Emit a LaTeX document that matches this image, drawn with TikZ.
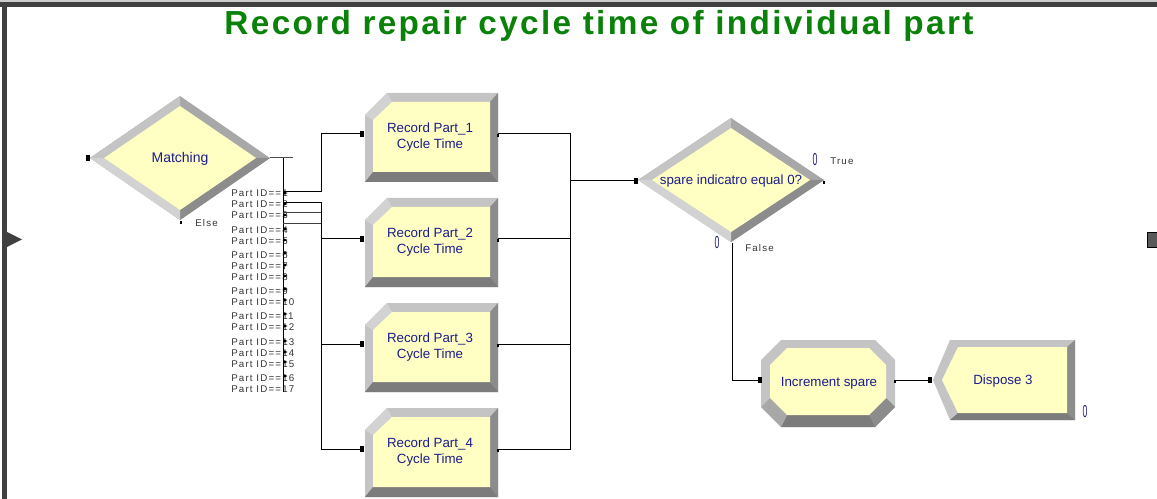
\documentclass[tikz,border=0pt]{standalone}
\usepackage{fontspec}
\setmainfont{Liberation Sans}
\newfontfamily\titlefont[LetterSpace=7]{Liberation Sans}
\newfontfamily\lblfont[LetterSpace=12]{Liberation Sans}
\usetikzlibrary{calc}
\definecolor{arenayellow}{HTML}{FFFFC4}
\definecolor{bevlight}{HTML}{C4C4C4}
\definecolor{bevlightest}{HTML}{D2D2D2}
\definecolor{bevmid}{HTML}{A8A8A8}
\definecolor{bevdark}{HTML}{8C8C8C}
\definecolor{bevdarker}{HTML}{7C7C7C}
\definecolor{arenablue}{HTML}{1C1C8C}
\definecolor{titlegreen}{HTML}{0A820A}
\definecolor{framegray}{HTML}{404040}
\tikzset{
  lbl/.style={font=\fontsize{10}{11.5}\selectfont, text=arenablue, align=center, inner sep=0pt},
  partlbl/.style={font=\lblfont\fontsize{7.3}{8}\selectfont, text=black!80, anchor=west, inner sep=0pt},
  smalllbl/.style={font=\lblfont\fontsize{7.3}{8}\selectfont, text=black!80, anchor=west, inner sep=0pt},
  counter/.style={font=\fontsize{13}{13}\selectfont, text=arenablue, inner sep=0pt},
  conn/.style={draw=black, line width=0.75pt},
}
\newcommand\portsq[1]{\fill[black] ($(#1)+(-2,-3)$) rectangle ($(#1)+(2,3)$);}
\newcommand\exittick[1]{\draw[black, line width=1pt] (#1) -- ++(0,3);}
\newcommand\recbox[3]{%
  \fill[bevlight] (365,#1+22) -- (387,#1) -- (498,#1) -- (498,#1+89) -- (365,#1+89) -- cycle;
  \fill[bevlightest] (365,#1+22) -- (387,#1) -- (392,#1+9) -- (373,#1+27) -- cycle;
  \fill[bevdark] (498,#1) -- (498,#1+89) -- (490,#1+79) -- (490,#1+9) -- cycle;
  \fill[bevdarker] (365,#1+89) -- (498,#1+89) -- (490,#1+79) -- (373,#1+79) -- cycle;
  \fill[arenayellow] (373,#1+27) -- (392,#1+9) -- (490,#1+9) -- (490,#1+79) -- (373,#1+79) -- cycle;
  \node[lbl] (#2) at (430,#1+44) {Record Part\_#3\\Cycle Time};
  \coordinate (#2in) at (362,#1+41);
  \coordinate (#2out) at (498,#1+41);
}
\newcommand\decidebox[4]{% cx, cy, hw, hh
  \fill[bevmid] (#1-#3,#2) -- (#1,#2-#4) -- (#1+#3,#2) -- (#1,#2+#4) -- cycle;
  \fill[bevlight] (#1-#3,#2) -- (#1,#2-#4) -- (#1,#2-#4+10) -- (#1-#3+14,#2) -- cycle;
  \fill[bevdark] (#1+#3,#2) -- (#1,#2+#4) -- (#1,#2+#4-10) -- (#1+#3-14,#2) -- cycle;
  \fill[bevlightest] (#1-#3,#2) -- (#1,#2+#4) -- (#1,#2+#4-10) -- (#1-#3+14,#2) -- cycle;
  \fill[arenayellow] (#1-#3+14,#2) -- (#1,#2-#4+10) -- (#1+#3-14,#2) -- (#1,#2+#4-10) -- cycle;
}
\begin{document}
\begin{tikzpicture}[x=0.75pt, y=-0.75pt]
\useasboundingbox (0,0) rectangle (1157,499);
% frame
\fill[black!20] (0,0) rectangle (1157,2);
\fill[framegray] (0,2) rectangle (1157,7);
\fill[framegray] (2,2) rectangle (7,499);
\fill[framegray] (7,232) -- (22,239.5) -- (7,247) -- cycle;
\filldraw[fill=black!65, draw=black, line width=0.5pt] (1147,232) rectangle (1157,247);
% title
\node[font=\titlefont\bfseries\fontsize{25}{28}\selectfont, text=titlegreen, inner sep=0pt] (title) at (599,26) {Record repair cycle time of individual part};

% Matching decide
\decidebox{180}{158}{90}{62}
\node[lbl, font=\fontsize{10.5}{12}\selectfont] (matching) at (180,159) {Matching};
\coordinate (matchin) at (88,158);
\coordinate (matchout) at (270,158);
\coordinate (matchelse) at (181,221);
\node[smalllbl] (else) at (195,223) {Else};

% record boxes
\recbox{93}{r1}{1}
\recbox{198}{r2}{2}
\recbox{303}{r3}{3}
\recbox{408}{r4}{4}

% spare decide
\decidebox{731}{180}{93}{62}
\node[lbl] (spare) at (731,181) {spare indicatro equal 0?};
\coordinate (d2in) at (636,181);
\coordinate (d2true) at (824,181);
\coordinate (d2false) at (732,243);
\node[smalllbl] (truelbl) at (830,161) {True};
\node[smalllbl] (falselbl) at (745,248) {False};
\node[counter] (c1) at (815,160) {\scalebox{0.5}[1]{0}};
\node[counter] (c2) at (717,243) {\scalebox{0.5}[1]{0}};

% Increment spare
\fill[bevlight] (761,360) -- (781,340) -- (875,340) -- (895,360) -- (895,407) -- (875,427) -- (781,427) -- (761,407) -- cycle;
\fill[bevdark] (895,407) -- (875,427) -- (869,415) -- (886,398) -- cycle;
\fill[bevdarker] (781,427) -- (875,427) -- (869,415) -- (787,415) -- cycle;
\fill[bevmid] (761,407) -- (781,427) -- (787,415) -- (770,398) -- cycle;
\fill[arenayellow] (770,365) -- (787,348) -- (869,348) -- (886,365) -- (886,398) -- (869,415) -- (787,415) -- (770,398) -- cycle;
\node[lbl] (incr) at (829,383) {Increment spare};
\coordinate (incin) at (760,380);
\coordinate (incout) at (895,380);

% Dispose
\fill[bevlight] (950,340) -- (1075,340) -- (1075,420) -- (950,420) -- (933,380) -- cycle;
\fill[bevdark] (1075,340) -- (1075,420) -- (1067,413) -- (1067,347) -- cycle;
\fill[bevdarker] (950,420) -- (1075,420) -- (1067,413) -- (958,413) -- cycle;
\fill[arenayellow] (958,347) -- (1067,347) -- (1067,413) -- (958,413) -- (942,380) -- cycle;
\node[lbl] (disp) at (1003,381) {Dispose 3};
\coordinate (dispin) at (930,380);
\node[counter] (c3) at (1085,412) {\scalebox{0.5}[1]{0}};

% Part ID labels
\foreach \n/\y in {1/193,2/204,3/215,4/230,5/241,6/255,7/266,8/277,9/291,10/302,11/316,12/327,13/342,14/353,15/364,16/378,17/389}{
  \node[partlbl] (pl\n) at (231,\y) {Part ID==\n};
}
% Matching exit bus
\coordinate (mbustop) at (283,158);
\coordinate (mbusbot) at (283,392);
\coordinate (mstub) at (293,158);
\draw[black!70, line width=0.75pt] (matchout) -- (mstub);
\draw[conn] (mbustop) -- (mbusbot);
\foreach \y in {193,204,215,229,240,253,265,276,289,300,314,326,341,352,362,376}{
  \fill[black] (283,\y-2) -- (287.5,\y) -- (283,\y+2) -- cycle;
}
\coordinate (p1) at (283,192);
\coordinate (p2) at (283,203);
\coordinate (p3) at (283,213);
\coordinate (p4) at (283,224);
\coordinate (busA) at (321,0);
\coordinate (busB) at (570,0);
\draw[conn] (p1) -- (p1 -| busA) |- (r1in);
\draw[conn] (p2) -- (p2 -| busA) -- (r4in -| busA) -- (r4in);
\draw[black!75, line width=0.75pt] (p3) -- (p3 -| busA);
\draw[black!75, line width=0.75pt] (p4) -- (p4 -| busA);
\draw[conn] (r2in -| busA) -- (r2in);
\draw[conn] (r3in -| busA) -- (r3in);
% records to spare decide
\draw[conn] (r1out) -- (r1out -| busB) -- (r4out -| busB) -- (r4out);
\draw[conn] (r2out) -- (r2out -| busB);
\draw[conn] (r3out) -- (r3out -| busB);
\draw[conn] (d2in -| busB) -- (d2in);
% false branch
\draw[conn] (d2false) |- (incin);
\draw[conn] (incout) -- (dispin);
% ports
\portsq{matchin}
\portsq{r1in}\portsq{r2in}\portsq{r3in}\portsq{r4in}
\portsq{d2in}
\portsq{incin}
\portsq{dispin}
\exittick{matchelse}
\exittick{d2true}
\exittick{r1out}\exittick{r2out}\exittick{r3out}\exittick{r4out}
\exittick{incout}
\end{tikzpicture}
\end{document}
